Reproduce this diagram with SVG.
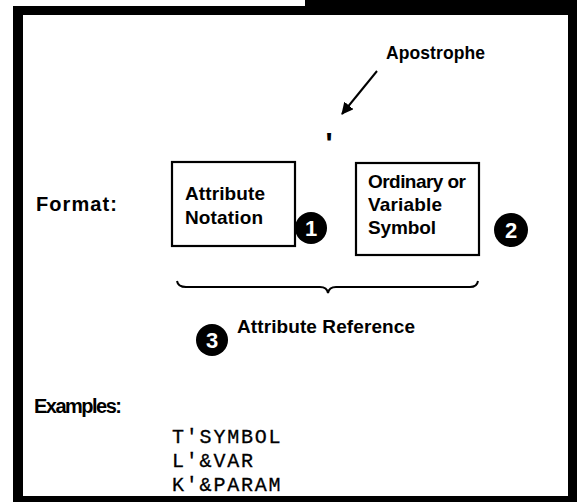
<svg xmlns="http://www.w3.org/2000/svg" width="577" height="502" viewBox="0 0 577 502">
<defs>
<style>
.lbl{font-family:"Liberation Sans",Arial,sans-serif;font-weight:bold;fill:#000}
.box{fill:#fff;stroke:#000;stroke-width:2.2}
.badge{fill:#000}
.num{font-family:"Liberation Sans",Arial,sans-serif;font-weight:bold;font-size:22px;fill:#fff;text-anchor:middle}
.mono{font-family:"Liberation Mono","Courier New",monospace;font-size:20px;letter-spacing:1.8px;fill:#000;stroke:#000;stroke-width:0.3}
</style>
<marker id="ah" markerWidth="12" markerHeight="12" refX="11" refY="6" orient="auto" markerUnits="userSpaceOnUse" viewBox="0 0 12 12">
<path d="M0,0 L12,6 L0,12 z" fill="#000"/>
</marker>
</defs>
<rect width="577" height="502" fill="#fff"/>
<path d="M13,6 H305 V0 H577 V502 H13 Z M23,15 V496 H568 V15 Z" fill="#000" fill-rule="evenodd"/>

<g id="apostrophe-label">
<text class="lbl" x="386" y="59" font-size="17.5" textLength="99">Apostrophe</text>
</g>
<g id="apostrophe-mark">
<text class="lbl" x="329" y="153" font-size="30" text-anchor="middle">'</text>
</g>
<g id="format-label">
<text class="lbl" x="36" y="211" font-size="20" textLength="81">Format:</text>
</g>
<g id="attribute-notation">
<rect class="box" x="172" y="162" width="123" height="84"/>
<text class="lbl" x="185" y="200" font-size="19" textLength="80">Attribute</text>
<text class="lbl" x="185" y="224" font-size="19" textLength="78">Notation</text>
</g>
<g id="badge-1">
<circle class="badge" cx="311" cy="228" r="16"/>
<text class="num" x="311" y="236">1</text>
</g>
<g id="symbol">
<rect class="box" x="356" y="163" width="123" height="92"/>
<text class="lbl" x="368" y="188" font-size="19" textLength="98">Ordinary or</text>
<text class="lbl" x="368" y="211" font-size="19" textLength="74">Variable</text>
<text class="lbl" x="368" y="234" font-size="19" textLength="68">Symbol</text>
</g>
<g id="badge-2">
<circle class="badge" cx="511" cy="230" r="17"/>
<text class="num" x="511" y="238">2</text>
</g>
<g id="brace">
<path d="M177,281 Q178,287 186,287 L320,287 Q327,287 328,293 Q329,287 336,287 L470,287 Q477,287 478,281" fill="none" stroke="#000" stroke-width="2"/>
</g>
<g id="badge-3">
<circle class="badge" cx="212" cy="340" r="16"/>
<text class="num" x="212" y="348">3</text>
</g>
<g id="attribute-reference">
<text class="lbl" x="237" y="333" font-size="19" textLength="178">Attribute Reference</text>
</g>
<g id="examples-label">
<text class="lbl" x="34" y="413" font-size="20" textLength="88">Examples:</text>
</g>
<g id="examples">
<text class="mono" x="172" y="443">T'SYMBOL</text>
<text class="mono" x="172" y="467">L'&amp;VAR</text>
<text class="mono" x="172" y="491">K'&amp;PARAM</text>
</g>
<g id="connectors">
<line x1="377" y1="71" x2="342" y2="114" stroke="#000" stroke-width="2" marker-end="url(#ah)"/>
</g>
</svg>
